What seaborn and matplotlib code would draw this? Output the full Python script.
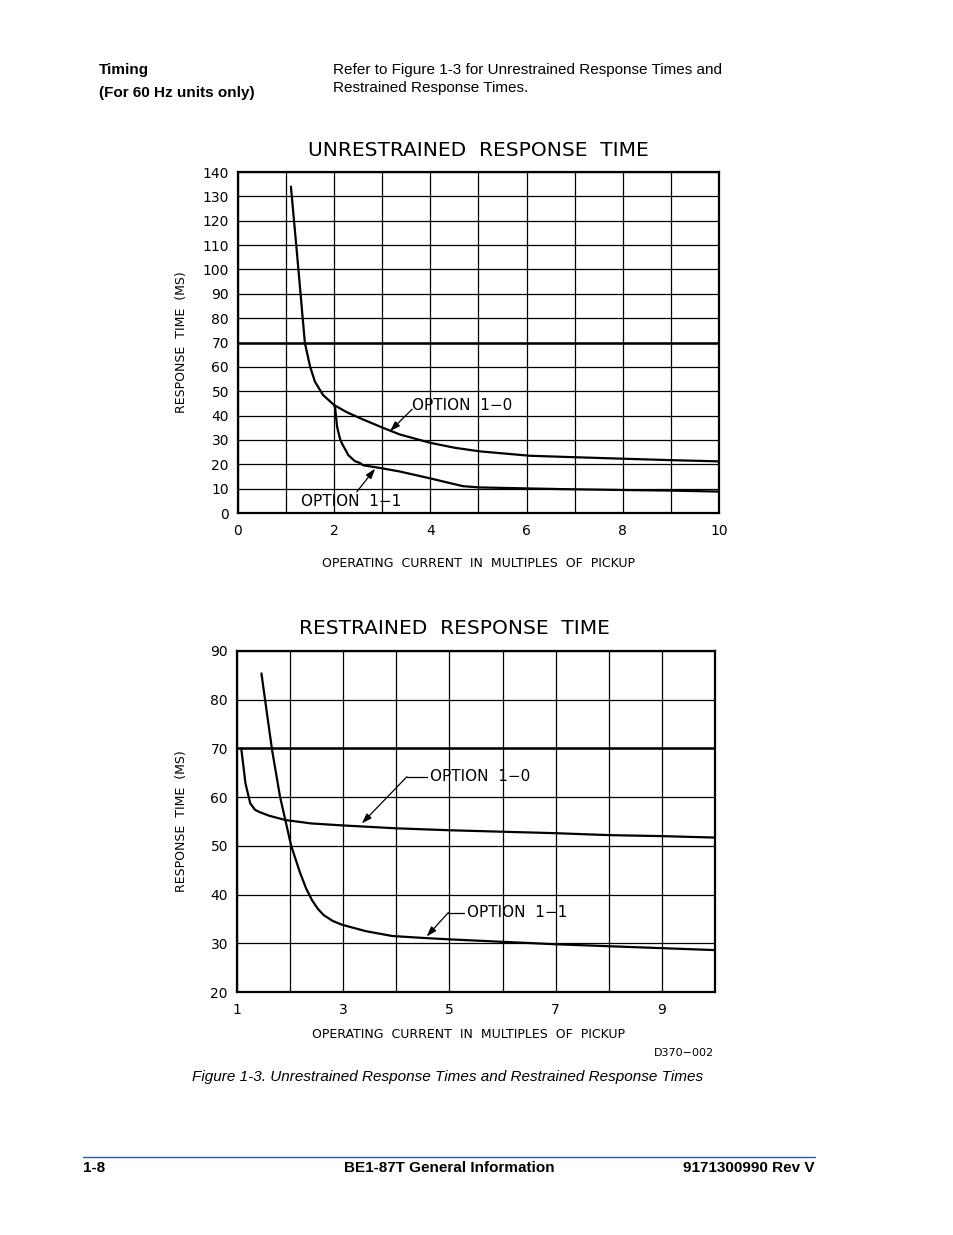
import numpy as np
import pandas as pd
import seaborn as sns
import matplotlib.pyplot as plt
from matplotlib.lines import Line2D

# ---- data ----
# unrestrained response time, option 1-0
unr_x_10 = [1.10, 1.22, 1.345, 1.39, 1.50, 1.60, 1.77, 2.0, 2.25, 2.54, 3.01, 3.37, 4.0, 4.5, 5.03, 6.07, 7.0, 8.15, 9.0, 9.99]
unr_y_10 = [134, 108, 80, 69.9, 60, 53.9, 48.4, 44.3, 41.5, 38.9, 35.0, 32.2, 28.8, 26.8, 25.3, 23.5, 22.9, 22.2, 21.7, 21.2]
# unrestrained response time, option 1-1
unr_x_11 = [2.0, 2.02, 2.06, 2.12, 2.16, 2.26, 2.29, 2.43, 2.54, 2.6, 3.01, 3.37, 4.0, 4.4, 4.68, 5.03, 6.0, 6.76, 8.15, 9.0, 9.99]
unr_y_11 = [44.3, 43.0, 35.4, 30.5, 28.6, 25.0, 23.8, 21.3, 20.5, 19.6, 18.3, 17.0, 14.2, 12.3, 11.0, 10.5, 10.1, 9.8, 9.4, 9.2, 8.8]

# restrained response time, option 1-0
res_x_10 = [1.08, 1.16, 1.25, 1.34, 1.41, 1.6, 1.91, 2.4, 2.98, 4.0, 5.01, 6.0, 7.0, 8.02, 9.0, 10.0]
res_y_10 = [70, 62.8, 58.7, 57.4, 57.0, 56.2, 55.3, 54.6, 54.2, 53.6, 53.2, 52.9, 52.6, 52.2, 52.0, 51.7]
# restrained response time, option 1-1
res_x_11 = [1.46, 1.56, 1.66, 1.81, 1.91, 2.02, 2.19, 2.30, 2.41, 2.52, 2.63, 2.80, 2.98, 3.42, 3.92, 4.5, 5.01, 6.0, 7.0, 8.0, 9.0, 10.0]
res_y_11 = [85.4, 77.5, 69.7, 60.1, 55.3, 50.0, 44.4, 41.3, 38.9, 37.1, 35.8, 34.6, 33.8, 32.5, 31.5, 31.1, 30.8, 30.3, 29.8, 29.4, 29.0, 28.6]

unr_xticks = list(range(0, 11))
unr_xlabels = ["0", "", "2", "", "4", "", "6", "", "8", "", "10"]
unr_yticks = list(range(0, 141, 10))
res_xticks = list(range(1, 11))
res_xlabels = ["1", "", "3", "", "5", "", "7", "", "9", ""]
res_yticks = list(range(20, 91, 10))

sns.set_style("white")
plt.rcParams["font.family"] = ["DejaVu Sans"]
plt.rcParams["text.color"] = "black"
plt.rcParams["axes.labelcolor"] = "black"

fig = plt.figure(figsize=(9.54, 12.35), dpi=100)
W, H = 954, 1235


def axes_px(left, top, right, bottom):
    return fig.add_axes([left / W, 1 - bottom / H, (right - left) / W, (bottom - top) / H])


def style_axes(ax, xticks, xlabels, yticks, xlim, ylim):
    ax.set_xlim(*xlim)
    ax.set_ylim(*ylim)
    ax.set_xticks(xticks)
    ax.set_xticklabels(xlabels)
    ax.set_yticks(yticks)
    ax.grid(True, color="black", linewidth=0.9)
    ax.axhline(70, color="black", linewidth=1.8, zorder=2)
    for sp in ax.spines.values():
        sp.set_visible(True)
        sp.set_color("black")
        sp.set_linewidth(1.6)
    ax.tick_params(axis="both", direction="out", length=5, width=1, color="black",
                   labelsize=10, labelcolor="black")
    ax.tick_params(axis="y", pad=1.5)
    ax.tick_params(axis="x", pad=3)
    ax.set_axisbelow(True)


def arrow(ax, tip, tail):
    ax.annotate("", xy=tip, xytext=tail,
                arrowprops=dict(arrowstyle="-|>,head_length=0.6,head_width=0.2",
                                color="black", lw=0.9, shrinkA=0, shrinkB=0))


# ---- top chart ----
ax1 = axes_px(238, 172, 719, 513)
df_u10 = pd.DataFrame({"x": unr_x_10, "y": unr_y_10})
df_u11 = pd.DataFrame({"x": unr_x_11, "y": unr_y_11})
sns.lineplot(data=df_u10, x="x", y="y", ax=ax1, color="black", linewidth=1.6, sort=False)
sns.lineplot(data=df_u11, x="x", y="y", ax=ax1, color="black", linewidth=1.6, sort=False)
style_axes(ax1, unr_xticks, unr_xlabels, unr_yticks, (0, 10), (0, 140))
ax1.text(0.5, 1 + 22 / 341, "UNRESTRAINED  RESPONSE  TIME", transform=ax1.transAxes,
         ha="center", va="center", fontsize=14.5)
ax1.set_xlabel("OPERATING  CURRENT  IN  MULTIPLES  OF  PICKUP", fontsize=9, va="center")
ax1.xaxis.set_label_coords(0.5, -50 / 341)
ax1.set_ylabel("RESPONSE  TIME  (MS)", fontsize=9, va="center")
ax1.yaxis.set_label_coords(-56 / 481, 0.5)

ax1.text(3.61, 44.3, "OPTION  1−0", fontsize=11, ha="left", va="center")
arrow(ax1, (3.16, 33.6), (3.62, 42.6))
ax1.text(1.32, 4.6, "OPTION  1−1", fontsize=11, ha="left", va="center")
arrow(ax1, (2.85, 18.2), (2.47, 8.7))

# ---- bottom chart ----
ax2 = axes_px(237, 651, 715, 992)
df_r10 = pd.DataFrame({"x": res_x_10, "y": res_y_10})
df_r11 = pd.DataFrame({"x": res_x_11, "y": res_y_11})
sns.lineplot(data=df_r10, x="x", y="y", ax=ax2, color="black", linewidth=1.6, sort=False)
sns.lineplot(data=df_r11, x="x", y="y", ax=ax2, color="black", linewidth=1.6, sort=False)
style_axes(ax2, res_xticks, res_xlabels, res_yticks, (1, 10), (20, 90))
ax2.text((454 - 237) / 478, 1 + 22 / 341, "RESTRAINED  RESPONSE  TIME", transform=ax2.transAxes,
         ha="center", va="center", fontsize=14.5)
ax2.set_xlabel("OPERATING  CURRENT  IN  MULTIPLES  OF  PICKUP", fontsize=9, va="center")
ax2.xaxis.set_label_coords((469 - 237) / 478, -43 / 341)
ax2.set_ylabel("RESPONSE  TIME  (MS)", fontsize=9, va="center")
ax2.yaxis.set_label_coords(-55 / 478, 0.5)

ax2.text(4.63, 64.3, "OPTION  1−0", fontsize=11, ha="left", va="center")
ax2.plot([4.2, 4.58], [64.2, 64.2], color="black", lw=0.9)
arrow(ax2, (3.35, 54.6), (4.2, 64.2))
ax2.text(5.33, 36.3, "OPTION  1−1", fontsize=11, ha="left", va="center")
ax2.plot([4.98, 5.28], [36.3, 36.3], color="black", lw=0.9)
arrow(ax2, (4.57, 31.4), (4.98, 36.3))

fig.text(714 / W, 1 - 1053 / H, "D370−002", fontsize=8, ha="right", va="center")

# ---- page text ----
page = dict(family=["Liberation Sans", "DejaVu Sans"], fontsize=11, va="center", color="black")
fig.text(99 / W, 1 - 70 / H, "Timing", weight="bold", ha="left", **page)
fig.text(99 / W, 1 - 93 / H, "(For 60 Hz units only)", weight="bold", ha="left", **page)
fig.text(333 / W, 1 - 70 / H, "Refer to Figure 1-3 for Unrestrained Response Times and", ha="left", **page)
fig.text(333 / W, 1 - 88 / H, "Restrained Response Times.", ha="left", **page)
fig.text(448 / W, 1 - 1077 / H,
         "Figure 1-3. Unrestrained Response Times and Restrained Response Times",
         style="italic", ha="center", **page)

fig.add_artist(Line2D([83 / W, 815 / W], [1 - 1157 / H, 1 - 1157 / H],
                      color="#1f5fa8", linewidth=1.0))
fig.text(83 / W, 1 - 1168 / H, "1-8", weight="bold", ha="left", **page)
fig.text(449 / W, 1 - 1168 / H, "BE1-87T General Information", weight="bold", ha="center", **page)
fig.text(815 / W, 1 - 1168 / H, "9171300990 Rev V", weight="bold", ha="right", **page)

fig.savefig("out.png", dpi=100, facecolor="white")
